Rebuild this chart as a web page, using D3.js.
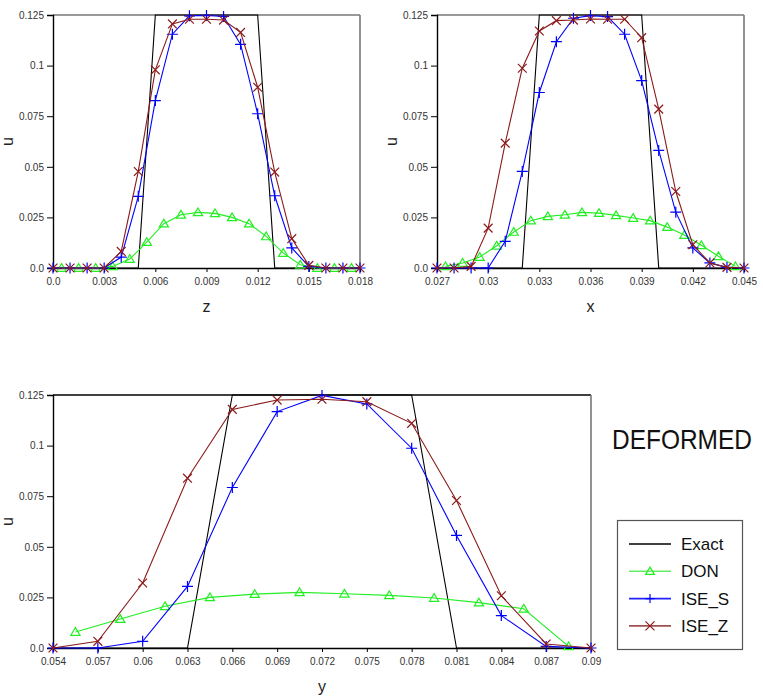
<!DOCTYPE html>
<html>
<head>
<meta charset="utf-8">
<script src="https://cdn.jsdelivr.net/npm/d3@7"></script>
<style>
  html, body { margin: 0; padding: 0; background: #fff; }
  svg { display: block; }
  text { font-family: "Liberation Sans", Arial, sans-serif; }
</style>
</head>
<body>
<svg id="chart" width="763" height="698"></svg>
<script>
// ---------- shared value ticks ----------
const uTicks = [0, 0.025, 0.05, 0.075, 0.1, 0.125];
const uTickLabels = ["0.0", "0.025", "0.05", "0.075", "0.1", "0.125"];

// ---------- panel z ----------
const zTicks = [0, 0.003, 0.006, 0.009, 0.012, 0.015, 0.018];
const zTickLabels = ["0.0", "0.003", "0.006", "0.009", "0.012", "0.015", "0.018"];
const zExactX = [0, 0.005, 0.006, 0.012, 0.013, 0.018];
const zExactU = [0, 0, 0.125, 0.125, 0, 0];
const zDonX = [0.0005, 0.0015, 0.0025, 0.0035, 0.0045, 0.0055, 0.0065, 0.0075, 0.0085,
               0.0095, 0.0105, 0.0115, 0.0125, 0.0135, 0.0145, 0.0155, 0.0165, 0.0175];
const zDonU = [0, 0, 0, 0.0008, 0.0044, 0.0128, 0.0219, 0.0263, 0.0275,
               0.027, 0.025, 0.0219, 0.0156, 0.0074, 0.0016, 0, 0, 0];
const zIseX = [0, 0.001, 0.002, 0.003, 0.004, 0.005, 0.006, 0.007, 0.008, 0.009,
               0.010, 0.011, 0.012, 0.013, 0.014, 0.015, 0.016, 0.017, 0.018];
const zIseS = [0, 0, 0, 0, 0.0054, 0.0354, 0.0827, 0.1155, 0.1246, 0.1248,
               0.1243, 0.1105, 0.0762, 0.0357, 0.0099, 0.0008, 0, 0, 0];
const zIseZ = [0, 0, 0, 0, 0.0082, 0.0477, 0.0979, 0.1206, 0.1229, 0.1229,
               0.1225, 0.1164, 0.0893, 0.0474, 0.0145, 0.0013, 0, 0, 0];

// ---------- panel x ----------
const xTicks = [0.027, 0.030, 0.033, 0.036, 0.039, 0.042, 0.045];
const xTickLabels = ["0.027", "0.03", "0.033", "0.036", "0.039", "0.042", "0.045"];
const xExactX = [0.027, 0.032, 0.033, 0.039, 0.040, 0.045];
const xExactU = [0, 0, 0.125, 0.125, 0, 0];
const xDonX = [0.0275, 0.0285, 0.0295, 0.0305, 0.0315, 0.0325, 0.0335, 0.0345, 0.0355,
               0.0365, 0.0375, 0.0385, 0.0395, 0.0405, 0.0415, 0.0425, 0.0435, 0.0445];
const xDonU = [0.0008, 0.0025, 0.0054, 0.011, 0.0178, 0.0234, 0.0255, 0.0263, 0.0275,
               0.0271, 0.026, 0.0247, 0.0234, 0.0202, 0.0163, 0.0112, 0.0058, 0.0008];
const xIseX = [0.027, 0.028, 0.029, 0.030, 0.031, 0.032, 0.033, 0.034, 0.035, 0.036,
               0.037, 0.038, 0.039, 0.040, 0.041, 0.042, 0.043, 0.044, 0.045];
const xIseS = [0, 0, 0, 0, 0.0132, 0.0477, 0.0867, 0.1118, 0.1234, 0.1247,
               0.1242, 0.1155, 0.0926, 0.0581, 0.0276, 0.0099, 0.0025, 0.0003, 0];
const xIseZ = [0, 0, 0.0008, 0.0197, 0.0617, 0.0987, 0.1171, 0.1222, 0.1225, 0.123,
               0.1229, 0.1229, 0.1138, 0.0785, 0.0378, 0.0115, 0.0025, 0.0003, 0];

// ---------- panel y ----------
const yTicks = [0.054, 0.057, 0.060, 0.063, 0.066, 0.069, 0.072, 0.075, 0.078, 0.081, 0.084, 0.087, 0.090];
const yTickLabels = ["0.054", "0.057", "0.06", "0.063", "0.066", "0.069", "0.072",
                     "0.075", "0.078", "0.081", "0.084", "0.087", "0.09"];
const yExactX = [0.054, 0.063, 0.066, 0.078, 0.081, 0.090];
const yExactU = [0, 0, 0.125, 0.125, 0, 0];
const yDonX = [0.0555, 0.0585, 0.0615, 0.0645, 0.0675, 0.0705, 0.0735, 0.0765, 0.0795, 0.0825, 0.0855, 0.0885];
const yDonU = [0.0079, 0.0143, 0.0206, 0.025, 0.0266, 0.0275, 0.0268, 0.026, 0.0247, 0.0224, 0.0194, 0.0008];
const yIseX = [0.054, 0.057, 0.060, 0.063, 0.066, 0.069, 0.072, 0.075, 0.078, 0.081, 0.084, 0.087, 0.090];
const yIseS = [0, 0, 0.0033, 0.0304, 0.0793, 0.1168, 0.1248, 0.1206, 0.0987, 0.0556, 0.016, 0.0008, 0];
const yIseZ = [0, 0.0033, 0.0321, 0.0839, 0.1179, 0.1225, 0.1229, 0.1217, 0.111, 0.0729, 0.0258, 0.002, 0];

// ---------- legend ----------
const seriesNames = ["Exact", "DON", "ISE_S", "ISE_Z"];
const seriesColors = ["#000000", "#22ee22", "#0000ff", "#8b1a1a"];
const legendColors = ["#000000", "#66ee66", "#2222ff", "#a05050"];
const seriesMarkers = [null, "tri", "plus", "cross"];

const svg = d3.select("#chart");
const zip = (xs, ys) => xs.map((x, i) => [x, ys[i]]);

function markerPath(kind, s) {
  if (kind === "plus") return `M${-s},0H${s}M0,${-s}V${s}`;
  if (kind === "cross") return `M${-s},${-s}L${s},${s}M${-s},${s}L${s},${-s}`;
  if (kind === "tri") return `M0,${-s}L${s * 1.05},${s * 0.75}L${-s * 1.05},${s * 0.75}Z`;
  return "";
}
const markerSize = { plus: 5.5, cross: 4.4, tri: 4.4 };

function drawPanel(cfg) {
  const g = svg.append("g");
  const x = d3.scaleLinear().domain(cfg.domain).range([cfg.left, cfg.right]);
  const y = d3.scaleLinear().domain([0, 0.125]).range([cfg.bottom, cfg.top]);

  // frame (top and right edges)
  g.append("path")
    .attr("d", `M${cfg.left},${cfg.top}H${cfg.right}`)
    .attr("stroke", cfg.topColor).attr("stroke-width", 1.4).attr("fill", "none");
  g.append("path")
    .attr("d", `M${cfg.right},${cfg.top}V${cfg.bottom}`)
    .attr("stroke", "#777").attr("stroke-width", 1.6).attr("fill", "none");

  // axes
  const ax = g.append("g").attr("transform", `translate(0,${cfg.bottom})`)
    .call(d3.axisBottom(x).tickValues(cfg.ticks).tickSize(4).tickPadding(6)
      .tickFormat((d, i) => cfg.tickLabels[i]));
  const ay = g.append("g").attr("transform", `translate(${cfg.left},0)`)
    .call(d3.axisLeft(y).tickValues(uTicks).tickSize(6).tickPadding(3)
      .tickFormat((d, i) => uTickLabels[i]));
  [ax, ay].forEach(a => {
    a.select(".domain").attr("stroke", "#000").attr("stroke-width", 1.4);
    a.selectAll(".tick line").attr("stroke", "#000");
    a.selectAll(".tick text").attr("fill", "#333").attr("font-size", 10)
      .attr("font-family", "Liberation Sans, Arial, sans-serif");
  });

  // axis titles
  g.append("text").attr("x", (cfg.left + cfg.right) / 2).attr("y", cfg.bottom + 44)
    .attr("text-anchor", "middle").attr("font-size", 16).attr("fill", "#222").text(cfg.xTitle);
  g.append("text").attr("transform", `translate(${cfg.left - 40},${(cfg.top + cfg.bottom) / 2}) rotate(-90)`)
    .attr("text-anchor", "middle").attr("font-size", 16).attr("fill", "#222").text("u");

  const line = d3.line().x(d => x(d[0])).y(d => y(d[1]));
  const series = [
    zip(cfg.exactX, cfg.exactU),
    zip(cfg.donX, cfg.donU),
    zip(cfg.iseX, cfg.iseS),
    zip(cfg.iseX, cfg.iseZ)
  ];
  series.forEach((pts, k) => {
    g.append("path").datum(pts).attr("d", line)
      .attr("fill", "none").attr("stroke", seriesColors[k]).attr("stroke-width", 1.1);
    const m = seriesMarkers[k];
    if (m) {
      g.append("g").selectAll("path").data(pts).join("path")
        .attr("transform", d => `translate(${x(d[0])},${y(d[1])})`)
        .attr("d", markerPath(m, markerSize[m]))
        .attr("fill", "none").attr("stroke", seriesColors[k]).attr("stroke-width", 1.2);
    }
  });
}

drawPanel({
  left: 53, right: 360, top: 15, bottom: 268, domain: [0, 0.018], topColor: "#777",
  ticks: zTicks, tickLabels: zTickLabels, xTitle: "z",
  exactX: zExactX, exactU: zExactU, donX: zDonX, donU: zDonU, iseX: zIseX, iseS: zIseS, iseZ: zIseZ
});
drawPanel({
  left: 437, right: 744, top: 15, bottom: 268, domain: [0.027, 0.045], topColor: "#777",
  ticks: xTicks, tickLabels: xTickLabels, xTitle: "x",
  exactX: xExactX, exactU: xExactU, donX: xDonX, donU: xDonU, iseX: xIseX, iseS: xIseS, iseZ: xIseZ
});
drawPanel({
  left: 53, right: 591, top: 395, bottom: 648, domain: [0.054, 0.090], topColor: "#000",
  ticks: yTicks, tickLabels: yTickLabels, xTitle: "y",
  exactX: yExactX, exactU: yExactU, donX: yDonX, donU: yDonU, iseX: yIseX, iseS: yIseS, iseZ: yIseZ
});

// title label, squeezed to its slot width
const title = svg.append("g").attr("transform", "translate(612,449)");
const titleText = title.append("text")
  .attr("font-family", "Noto Sans, Open Sans, DejaVu Sans, sans-serif").attr("font-weight", 100)
  .attr("font-size", 28).attr("fill", "#111").text("DEFORMED");
const natural = titleText.node().getComputedTextLength();
titleText.attr("transform", `scale(${140 / natural},1)`);

// legend
const lg = svg.append("g");
lg.append("rect").attr("x", 617.5).attr("y", 520.5).attr("width", 125).attr("height", 129)
  .attr("fill", "#fff").attr("stroke", "#555").attr("stroke-width", 1.2);
seriesNames.forEach((name, k) => {
  const yy = 544 + k * 27.3;
  lg.append("path").attr("d", `M629,${yy}H671`).attr("stroke", legendColors[k]).attr("stroke-width", 1.6);
  const m = seriesMarkers[k];
  if (m) {
    lg.append("path").attr("transform", `translate(650,${yy})`)
      .attr("d", markerPath(m, m === "tri" ? 4.2 : 4.5))
      .attr("fill", "none").attr("stroke", seriesColors[k]).attr("stroke-width", 1.2);
  }
  lg.append("text").attr("x", 681).attr("y", yy + 6).attr("font-size", 17)
    .attr("fill", "#111").text(name);
});
</script>
</body>
</html>
